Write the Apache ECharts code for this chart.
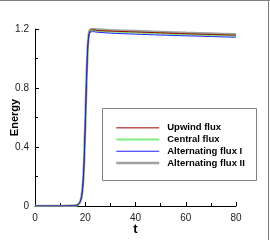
<!DOCTYPE html>
<html><head><meta charset="utf-8">
<script src="https://cdn.jsdelivr.net/npm/echarts@6/dist/echarts.min.js"></script>
<style>html,body{margin:0;padding:0;background:#fff}#c{width:270px;height:240px}</style>
</head><body><div id="c"></div>
<script>
var seriesNames = ['Upwind flux', 'Central flux', 'Alternating flux I', 'Alternating flux II'];
var tValues = [0, 5, 10, 15, 16, 17, 17.5, 18, 18.5, 19, 19.5, 20, 20.5, 21, 21.5, 22, 23, 25, 30, 40, 50, 60, 70, 80];
var upwind  = [0, 0, 0, 0.001, 0.003, 0.008, 0.015, 0.03, 0.06, 0.13, 0.28, 0.55, 0.85, 1.08, 1.17, 1.19, 1.195, 1.19, 1.186, 1.18, 1.174, 1.168, 1.163, 1.158];
var central = [0, 0, 0, 0.001, 0.003, 0.008, 0.015, 0.03, 0.06, 0.13, 0.28, 0.55, 0.85, 1.08, 1.17, 1.188, 1.192, 1.188, 1.183, 1.176, 1.17, 1.164, 1.159, 1.154];
var altI    = [0, 0, 0, 0.001, 0.003, 0.008, 0.015, 0.03, 0.06, 0.13, 0.28, 0.55, 0.85, 1.07, 1.16, 1.178, 1.182, 1.178, 1.172, 1.165, 1.159, 1.154, 1.149, 1.144];
var altII   = [0, 0, 0, 0.001, 0.003, 0.008, 0.015, 0.03, 0.06, 0.13, 0.28, 0.55, 0.85, 1.08, 1.175, 1.195, 1.2, 1.196, 1.192, 1.186, 1.18, 1.174, 1.169, 1.164];
var xTicks = [0, 20, 40, 60, 80];
var yTicks = [0, 0.4, 0.8, 1.2];

function pairs(v){ return tValues.map(function(t,i){return [t, v[i]];}); }
var colors = ['#a00000', '#80ec80', '#2020ff', '#a0a0a0'];
var widths = [1, 2, 1, 2.5];
var values = [upwind, central, altI, altII];
var order = [3, 1, 0, 2];

var chart = echarts.init(document.getElementById('c'), null, {renderer:'canvas'});
var font = 'Liberation Sans, Arial, sans-serif';
chart.setOption({
  animation: false,
  grid: {left: 35, right: 34, top: 29, bottom: 34, containLabel: false, outerBoundsMode: 'none'},
  xAxis: {
    type: 'value', min: xTicks[0], max: xTicks[xTicks.length-1], interval: 20,
    name: 't', nameLocation: 'middle', nameGap: 17, nameMoveOverlap: false,
    nameTextStyle: {fontFamily: font, fontWeight: 'bold', fontSize: 13, color: '#000'},
    axisLine: {show: true, lineStyle: {color: '#000', width: 1}},
    axisTick: {show: true, inside: true, length: 4, lineStyle: {color: '#000'}},
    minorTick: {show: true, splitNumber: 2, length: 3, lineStyle: {color: '#000'}},
    splitLine: {show: false},
    axisLabel: {fontFamily: font, fontSize: 10, color: '#222', margin: 7}
  },
  yAxis: {
    type: 'value', min: yTicks[0], max: yTicks[yTicks.length-1], interval: 0.4,
    name: 'Energy', nameLocation: 'middle', nameGap: 15, nameRotate: 90, nameMoveOverlap: false,
    nameTextStyle: {fontFamily: font, fontWeight: 'bold', fontSize: 11, color: '#000'},
    axisLine: {show: true, lineStyle: {color: '#000', width: 1}},
    axisTick: {show: true, inside: true, length: 4, lineStyle: {color: '#000'}},
    minorTick: {show: true, splitNumber: 2, length: 3, lineStyle: {color: '#000'}},
    splitLine: {show: false},
    axisLabel: {fontFamily: font, fontSize: 10, color: '#222', margin: 6,
      formatter: function(v){ return String(Math.round(v*10)/10); }}
  },
  legend: {
    orient: 'vertical', left: 115, top: 122, itemWidth: 43, itemHeight: 8, itemGap: 0,
    padding: 0, z: 10,
    itemStyle: {opacity: 0},
    data: seriesNames.map(function(n, i){ return {name: n, lineStyle: {width: widths[i]}}; }),
    textStyle: {fontFamily: font, fontWeight: 'bold', fontSize: 9.5, color: '#000', lineHeight: 11.7, padding: [0,0,0,3]}
  },
  graphic: [
    {type: 'rect', shape: {x: 102.5, y: 108.5, width: 154, height: 72}, style: {fill: '#fff', stroke: '#808080', lineWidth: 1}, z: 5},
    {type: 'line', shape: {x1: 0, y1: 0.5, x2: 270, y2: 0.5}, style: {stroke: '#808080', lineWidth: 1}},
    {type: 'line', shape: {x1: 268.5, y1: 0, x2: 268.5, y2: 240}, style: {stroke: '#808080', lineWidth: 1}}
  ],
  series: order.map(function(i){
    return {
      name: seriesNames[i], type: 'line', data: pairs(values[i]), symbol: 'none', smooth: 0.3,
      lineStyle: {color: colors[i], width: widths[i]}, itemStyle: {color: colors[i]}, z: 3
    };
  })
});
</script></body></html>
